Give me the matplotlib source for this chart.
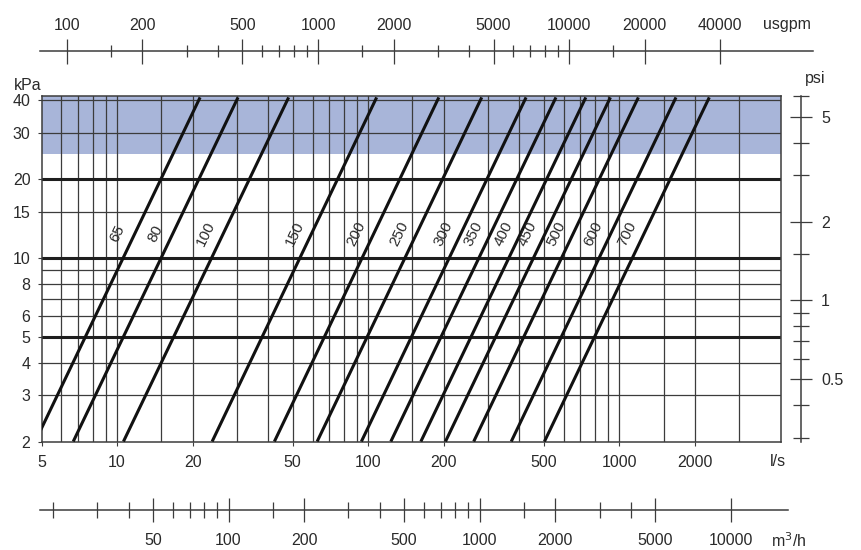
import numpy as np
import matplotlib
matplotlib.use('Agg')
import matplotlib.pyplot as plt
from matplotlib.ticker import FixedLocator, NullFormatter, NullLocator

plt.rcParams['font.family'] = ['Liberation Sans', 'DejaVu Sans']

# Diametros de valvula y caudal (l/s) en los extremos de cada recta
sizes = ['65', '80', '100', '150', '200', '250', '300', '350', '400', '450', '500', '600', '700']
flow_at_2kpa = [4.72, 6.69, 10.6, 23.9, 42.3, 62.6, 93.9, 123, 162, 203, 263, 371, 503]
flow_at_41kpa = [21.4, 30.3, 48.2, 108, 191, 283, 425, 559, 735, 921, 1190, 1680, 2280]
dp_ends = [2, 41]

# Rango de los ejes
flow_min, flow_max = 5, 4400
dp_min, dp_max = 2, 41.5
shade_from = 25

x_ticks = [5, 10, 20, 50, 100, 200, 500, 1000, 2000]
x_grid = [6, 7, 8, 9, 10, 15, 20, 30, 40, 50, 60, 70, 80, 90, 100, 150, 200,
          300, 400, 500, 600, 700, 800, 900, 1000, 1500, 2000, 3000]
y_ticks = [2, 3, 4, 5, 6, 8, 10, 15, 20, 30, 40]
y_grid = [3, 4, 6, 7, 8, 9, 15, 30, 40]
y_grid_bold = [5, 10, 20]

usgpm_major = [100, 200, 500, 1000, 2000, 5000, 10000, 20000, 40000]
usgpm_minor = [150, 300, 400, 600, 700, 800, 900, 1500, 3000, 4000, 6000, 7000, 8000, 9000, 15000]
m3h_major = [50, 100, 200, 500, 1000, 2000, 5000, 10000]
m3h_minor = [20, 30, 40, 60, 70, 80, 90, 150, 300, 400, 600, 700, 800, 900, 1500, 3000, 4000]
psi_major = [0.5, 1, 2, 5]
psi_labels = ['0.5', '1', '2', '5']
psi_minor = [0.3, 0.4, 0.6, 0.7, 0.8, 0.9, 1.5, 3, 4, 6]

LS_TO_USGPM = 15.850
LS_TO_M3H = 3.6
KPA_TO_PSI = 0.145038

text_c = '#2a2a2a'
line_c = '#1e1e1e'
grid_c = '#3c3c3c'
W, H = 861, 550

fig = plt.figure(figsize=(W / 100, H / 100), dpi=100)
ax = fig.add_axes([41.5 / W, (H - 441.5) / H, 739.5 / W, 345.5 / H])
ax.set_xscale('log')
ax.set_yscale('log')
ax.set_xlim(flow_min, flow_max)
ax.set_ylim(dp_min, dp_max)

# zona sombreada
ax.axhspan(shade_from, dp_max, color='#a8b5d9', lw=0, zorder=0)

# rejilla
for x in x_grid:
    ax.axvline(x, color=grid_c, lw=0.9, zorder=1)
for y in y_grid:
    ax.axhline(y, color=grid_c, lw=0.9, zorder=1)
for y in y_grid_bold:
    ax.axhline(y, color=line_c, lw=2.2, zorder=2)

# rectas de perdida de carga
for name, q0, q1 in zip(sizes, flow_at_2kpa, flow_at_41kpa):
    ax.plot([q0, q1], dp_ends, color='#111111', lw=2.2, zorder=3,
            solid_capstyle='butt')
    qm = np.sqrt(q0 * q1) * 1.0
    ax.text(qm, 12.4, name, rotation=64, ha='center', va='center',
            fontsize=11, color=text_c, zorder=4)

for s in ax.spines.values():
    s.set_color(grid_c)
    s.set_linewidth(1.1)

ax.set_xticks(x_ticks, labels=[str(v) for v in x_ticks])
ax.set_yticks(y_ticks, labels=[str(v) for v in y_ticks])
ax.xaxis.set_minor_locator(NullLocator())
ax.yaxis.set_minor_locator(NullLocator())
ax.tick_params(axis='x', length=3, width=0.8, colors=grid_c, labelcolor=text_c,
               labelsize=11.5, pad=7)
ax.tick_params(axis='y', length=3, width=0.8, colors=grid_c, labelcolor=text_c,
               labelsize=11.5, pad=5)

# eje superior usgpm
top = ax.secondary_xaxis(1.131, functions=(lambda q: q * LS_TO_USGPM,
                                           lambda g: g / LS_TO_USGPM))
top.xaxis.set_ticks_position('top')
top.set_xticks(usgpm_major, labels=[str(v) for v in usgpm_major])
top.xaxis.set_minor_locator(FixedLocator(usgpm_minor))
top.xaxis.set_minor_formatter(NullFormatter())
top.tick_params(which='major', direction='inout', length=18, width=0.9,
                colors=grid_c, labelcolor=text_c, labelsize=11.5, pad=3.5)
top.tick_params(which='minor', direction='inout', length=8.5, width=0.9, colors=grid_c)
for s in top.spines.values():
    s.set_visible(False)
ax.plot([-0.002, 1.043], [1.131, 1.131], transform=ax.transAxes,
        clip_on=False, color=grid_c, lw=1.1)

# eje inferior m3/h
bot = ax.secondary_xaxis(-0.198, functions=(lambda q: q * LS_TO_M3H,
                                            lambda m: m / LS_TO_M3H))
bot.xaxis.set_ticks_position('bottom')
bot.set_xticks(m3h_major, labels=[str(v) for v in m3h_major])
bot.xaxis.set_minor_locator(FixedLocator(m3h_minor))
bot.xaxis.set_minor_formatter(NullFormatter())
bot.tick_params(which='major', direction='inout', length=17, width=0.9,
                colors=grid_c, labelcolor=text_c, labelsize=11.5, pad=8)
bot.tick_params(which='minor', direction='inout', length=11, width=0.9, colors=grid_c)
for s in bot.spines.values():
    s.set_visible(False)
ax.plot([-0.002, 1.0094], [-0.198, -0.198], transform=ax.transAxes,
        clip_on=False, color=grid_c, lw=1.1)

# eje derecho psi
rgt = ax.secondary_yaxis(1.027, functions=(lambda k: k * KPA_TO_PSI,
                                           lambda p: p / KPA_TO_PSI))
rgt.yaxis.set_ticks_position('right')
rgt.set_yticks(psi_major, labels=psi_labels)
rgt.yaxis.set_minor_locator(FixedLocator(psi_minor))
rgt.yaxis.set_minor_formatter(NullFormatter())
rgt.tick_params(which='major', direction='inout', length=16, width=0.9,
                colors=grid_c, labelcolor=text_c, labelsize=11.5, pad=6.5)
rgt.tick_params(which='minor', direction='inout', length=11, width=0.9, colors=grid_c)
for s in rgt.spines.values():
    s.set_color(grid_c)
    s.set_linewidth(1.1)

# unidades
fig.text(787 / W, 1 - 24 / H, 'usgpm', ha='center', va='center', fontsize=11.5, color=text_c)
fig.text(789 / W, 1 - 541 / H, 'm$^3$/h', ha='center', va='center', fontsize=11.5, color=text_c)
fig.text(778 / W, 1 - 462 / H, 'l/s', ha='center', va='center', fontsize=11.5, color=text_c)
fig.text(28 / W, 1 - 86 / H, 'kPa', ha='center', va='center', fontsize=11.5, color=text_c)
fig.text(815 / W, 1 - 78 / H, 'psi', ha='center', va='center', fontsize=11.5, color=text_c)

fig.savefig('out.png', dpi=100)
